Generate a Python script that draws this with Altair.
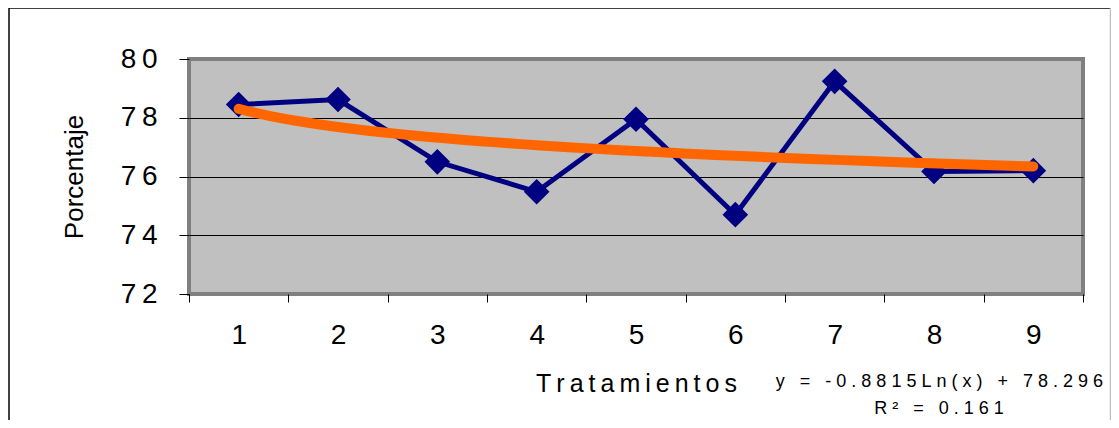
import altair as alt
import pandas as pd

# ---- data ----
tratamientos = [1, 2, 3, 4, 5, 6, 7, 8, 9]
porcentaje = [78.45, 78.62, 76.50, 75.48, 77.95, 74.70, 79.24, 76.17, 76.20]
y_ticks = [72, 74, 76, 78, 80]
x_ticks = [0.5, 1, 1.5, 2, 2.5, 3, 3.5, 4, 4.5, 5, 5.5, 6, 6.5, 7, 7.5, 8, 8.5, 9, 9.5]
equation = "y = -0.8815Ln(x) + 78.296"
r2_text = "R² = 0.161"
x_title = "Tratamientos"
y_title = "Porcentaje"

TS = "\u2009"   # thin space
NB = "\u00a0"   # non-breaking space

def spaced(s, sep):
    return sep.join(NB if c == " " else c for c in s)

df = pd.DataFrame({"x": tratamientos, "y": porcentaje})

FONT = "Liberation Sans"
W, H = 894, 235

x_enc = alt.X(
    "x:Q",
    scale=alt.Scale(domain=[0.5, 9.5], nice=False, zero=False),
    axis=alt.Axis(
        values=x_ticks,
        title=spaced(x_title, TS),
        titleFont=FONT, titleFontSize=25, titleFontWeight="normal",
        titleColor="black", titlePadding=22,
        labelExpr="datum.value % 1 == 0 ? toString(datum.value) : ''",
        labelFont=FONT, labelFontSize=28, labelColor="black",
        labelPadding=19, labelOverlap=False, labelFlush=False,
        tickSize=8, tickColor="black", tickWidth=1,
        tickOpacity={"condition": {"test": "datum.value % 1 == 0", "value": 0}, "value": 1},
        domain=False, grid=False,
    ),
)
y_enc = alt.Y(
    "y:Q",
    scale=alt.Scale(domain=[72, 80], nice=False, zero=False),
    axis=alt.Axis(
        values=y_ticks,
        title=y_title,
        titleFont=FONT, titleFontSize=26, titleFontWeight="normal",
        titleColor="black", titlePadding=33,
        labelExpr="join(split(datum.label, ''), '" + TS + "')",
        labelFont=FONT, labelFontSize=28, labelColor="black",
        labelPadding=22,
        tickSize=10, tickColor="black", tickWidth=1,
        domain=False,
        grid=True, gridColor="black", gridWidth=1,
        gridOpacity={"condition": {"test": "datum.value == 72 || datum.value == 80", "value": 0}, "value": 1},
    ),
)

base = alt.Chart(df)

line = base.mark_line(color="#000080", strokeWidth=5).encode(x=x_enc, y=y_enc)
points = base.mark_point(
    shape="diamond", filled=True, size=520, color="#000080",
    stroke="#000080", strokeWidth=2, opacity=1,
).encode(x="x:Q", y="y:Q")
trend = base.transform_regression(
    "x", "y", method="log", extent=[1, 9]
).mark_line(color="#FF6600", strokeWidth=10, strokeCap="round").encode(x="x:Q", y="y:Q")

one = alt.Data(values=[{"a": 1}])
eq_text = alt.Chart(one).mark_text(
    align="right", baseline="middle", font=FONT, fontSize=18, color="black"
).encode(x=alt.value(914), y=alt.value(323), text=alt.value(spaced(equation, NB)))
r2 = alt.Chart(one).mark_text(
    align="center", baseline="middle", font=FONT, fontSize=18, color="black"
).encode(x=alt.value(750), y=alt.value(350), text=alt.value(spaced(r2_text, NB)))

frame_top = alt.Chart(one).mark_rule(color="black", strokeWidth=1.5).encode(
    x=alt.value(-180), x2=alt.value(921), y=alt.value(-51))
frame_left = alt.Chart(one).mark_rule(color="black", strokeWidth=1.5).encode(
    x=alt.value(-180), y=alt.value(-51), y2=alt.value(362))
frame_right = alt.Chart(one).mark_rule(color="#C0C0C0", strokeWidth=1.5).encode(
    x=alt.value(921.5), y=alt.value(-51), y2=alt.value(362))

chart = alt.layer(
    line, points, trend, eq_text, r2, frame_top, frame_left, frame_right
).properties(
    width=W, height=H,
    autosize=alt.AutoSizeParams(type="none"),
    padding={"left": 181, "top": 51, "right": 28, "bottom": 126},
).configure(
    background="white"
).configure_view(
    fill="#C0C0C0", stroke="#808080", strokeWidth=4
)

chart.save("out.html", embed_options={"renderer": "svg", "actions": False})
